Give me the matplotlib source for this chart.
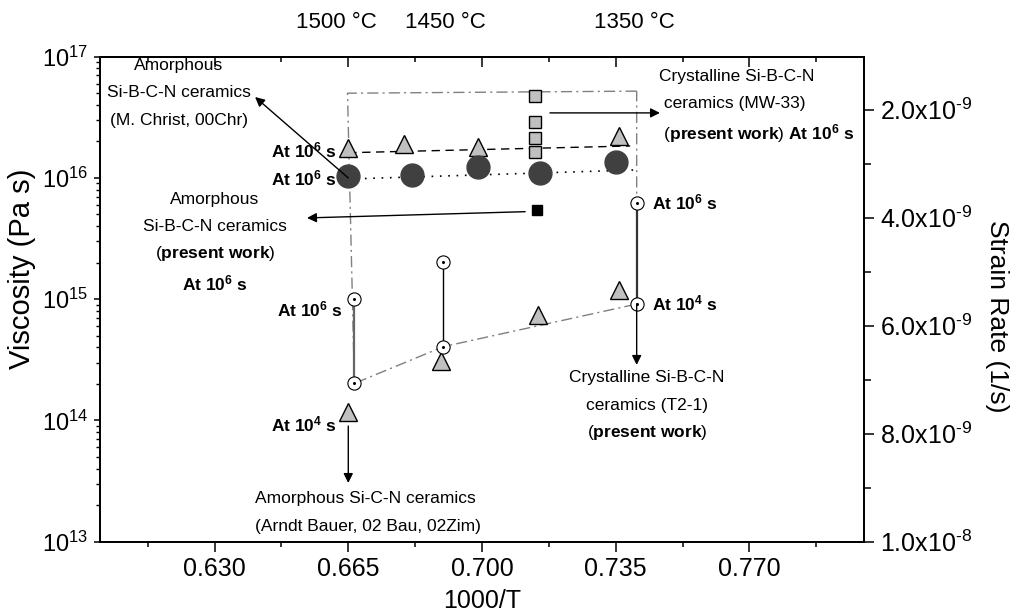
import numpy as np
import matplotlib
matplotlib.use("Agg")
import matplotlib.pyplot as plt
from matplotlib.ticker import FixedLocator, FuncFormatter, LogLocator, NullFormatter

plt.rcParams['font.family'] = ['Liberation Sans', 'DejaVu Sans']
plt.rcParams['mathtext.fontset'] = 'custom'
plt.rcParams['mathtext.rm'] = 'Liberation Sans'
plt.rcParams['mathtext.bf'] = 'Liberation Sans:bold'
plt.rcParams['mathtext.it'] = 'Liberation Sans:italic'

# amorphous Si-B-C-N (M. Christ), 10^6 s
christ_x = [0.665, 0.6796, 0.699, 0.7359]
christ_eta = [1.77e16, 1.90e16, 1.80e16, 2.23e16]
christ_fit_x = [0.665, 0.7388]
christ_fit_eta = [1.615e16, 1.835e16]

# amorphous Si-B-C-N (present work), 10^6 s
amor_x = [0.665, 0.6817, 0.699, 0.7152, 0.7351]
amor_eta = [1.03e16, 1.06e16, 1.22e16, 1.09e16, 1.36e16]
amor_fit_x = [0.665, 0.7405]
amor_fit_eta = [9.8e15, 1.165e16]

# crystalline MW-33, 10^6 s
mw33_x = [0.7139, 0.7139, 0.7139, 0.7139]
mw33_eta = [4.74e16, 2.91e16, 2.12e16, 1.64e16]
amor_pw_x = [0.7143]
amor_pw_eta = [5.45e15]

# crystalline T2-1 at 10^6 s and 10^4 s
t21_x = [0.6666, 0.6899, 0.7405]
t21_eta_1e6 = [1.0e15, 2.01e15, 6.18e15]
t21_eta_1e4 = [2.02e14, 4.06e14, 9.12e14]
t21_link_colors = ['#666666', 'black', '#333333']

# amorphous Si-C-N (Bauer)
bauer_x = [0.665, 0.6893, 0.7147, 0.7359]
bauer_eta = [1.18e14, 3.11e14, 7.4e14, 1.19e15]

# upper corners of the dash-dot envelope
env_top_x = [0.7405, 0.6648]
env_top_eta = [5.2e16, 5.0e16]

x_major = [0.630, 0.665, 0.700, 0.735, 0.770]
x_minor = [0.6125, 0.6475, 0.6825, 0.7175, 0.7525, 0.7875]
temp_labels = ['1500 °C', '1450 °C', '1350 °C']
temp_pos = [0.6618, 0.6903, 0.7398]

fig = plt.figure(figsize=(10.1, 6.15), dpi=100)
ax = fig.add_axes([0.099, 0.1192, 0.7564, 0.7886])
ax.set_xlim(0.6, 0.8)
ax.set_yscale('log')
ax.set_ylim(1e13, 1e17)

gray = '#c0c0c0'
ax.plot(env_top_x + t21_x + env_top_x[:1], env_top_eta + t21_eta_1e4 + env_top_eta[:1],
        color='#808080', lw=1, ls=(0, (8, 3, 1.5, 3)), zorder=1)
ax.plot(christ_fit_x, christ_fit_eta, color='k', lw=1, ls=(0, (6, 4)), zorder=1)
ax.plot(amor_fit_x, amor_fit_eta, color='k', lw=1.2, ls=(0, (1, 4)), zorder=1)
for xv, lo, hi, c in zip(t21_x, t21_eta_1e4, t21_eta_1e6, t21_link_colors):
    ax.plot([xv, xv], [lo, hi], color=c, lw=1.6 if c != 'black' else 1, zorder=1)

ax.plot(christ_x, christ_eta, '^', ms=13, mfc=gray, mec='k', mew=1, zorder=3)
ax.plot(bauer_x, bauer_eta, '^', ms=13, mfc=gray, mec='k', mew=1, zorder=3)
ax.plot(amor_x, amor_eta, 'o', ms=16.5, mfc='#404040', mec='#404040', zorder=3)
ax.plot(mw33_x, mw33_eta, 's', ms=8.6, mfc=gray, mec='k', mew=1, zorder=3)
ax.plot(amor_pw_x, amor_pw_eta, 's', ms=7.5, mfc='k', mec='k', zorder=3)
for eta in (t21_eta_1e6, t21_eta_1e4):
    ax.plot(t21_x, eta, 'o', ms=9.5, mfc='white', mec='k', mew=0.8, zorder=3)
    ax.plot(t21_x, eta, 'o', ms=1.2, mfc='k', mec='k', zorder=4)

arrow = dict(arrowstyle='-|>', color='k', lw=1, mutation_scale=14, shrinkA=0, shrinkB=0)
ax.annotate('', xy=(0.6406, 4.65e16), xytext=(0.665, 1.0e16), arrowprops=arrow)
ax.annotate('', xy=(0.6542, 4.68e15), xytext=(0.7113, 5.27e15), arrowprops=arrow)
ax.annotate('', xy=(0.665, 3.05e13), xytext=(0.665, 9.0e13), arrowprops=arrow)
ax.annotate('', xy=(0.7466, 3.44e16), xytext=(0.7178, 3.44e16), arrowprops=arrow)
ax.annotate('', xy=(0.7405, 2.87e14), xytext=(0.7405, 9.12e14), arrowprops=arrow)


def stack(x, y, lines, ha='center', gap=19.5, size=12.5):
    for i, s in enumerate(lines):
        ax.annotate(s, (x, y), xytext=(0, -i * gap), textcoords='offset points',
                    ha=ha, va='center', fontsize=size)


at6 = r'$\mathbf{At\ 10^{6}\ s}$'
at4 = r'$\mathbf{At\ 10^{4}\ s}$'
pw = r'($\mathbf{present\ work}$)'

stack(0.6206, 8.4e16, ['Amorphous', 'Si-B-C-N ceramics', '(M. Christ, 00Chr)'])
stack(0.6301, 6.7e15, ['Amorphous', 'Si-B-C-N ceramics', pw])
ax.annotate(at6, (0.6301, 6.7e15), xytext=(0, -60.5), textcoords='offset points',
            ha='center', va='center', fontsize=12.5)
stack(0.6406, 2.25e13, ['Amorphous Si-C-N ceramics', '(Arndt Bauer, 02 Bau, 02Zim)'], ha='left')
stack(0.7463, 6.9e16, ['Crystalline Si-B-C-N', ' ceramics (MW-33)'], ha='left')
ax.annotate(' ' + pw + ' ' + at6, (0.7463, 6.9e16), xytext=(0, -41.5), textcoords='offset points',
            ha='left', va='center', fontsize=12.5)
stack(0.7432, 2.24e14, ['Crystalline Si-B-C-N', 'ceramics (T2-1)', pw])

for txt, xv, yv, ha in [(at6, 0.662, 1.70e16, 'right'), (at6, 0.662, 1.0e16, 'right'),
                        (at6, 0.6636, 8.3e14, 'right'), (at4, 0.662, 9.3e13, 'right'),
                        (at6, 0.7445, 6.3e15, 'left'), (at4, 0.7445, 9.3e14, 'left')]:
    ax.text(xv, yv, txt, ha=ha, va='center', fontsize=12.5)

for lab, xv in zip(temp_labels, temp_pos):
    ax.text(xv, 1.0715, lab, transform=ax.get_xaxis_transform(), ha='center', va='center',
            fontsize=16)

# axes styling
for sp in ax.spines.values():
    sp.set_linewidth(1.3)
ax.xaxis.set_major_locator(FixedLocator(x_major))
ax.xaxis.set_minor_locator(FixedLocator(x_minor))
ax.xaxis.set_major_formatter(FuncFormatter(lambda v, p: '%.3f' % v))
ax.tick_params(axis='x', which='major', direction='out', length=7.2, width=1.1, labelsize=18, pad=4)
ax.tick_params(axis='x', which='minor', direction='out', length=3.6, width=1.1)
ax.yaxis.set_major_locator(LogLocator(base=10, numticks=10))
ax.yaxis.set_minor_locator(LogLocator(base=10, subs=np.arange(2, 10), numticks=10))
ax.yaxis.set_minor_formatter(NullFormatter())
ax.tick_params(axis='y', which='major', direction='out', length=4.5, width=1.1, labelsize=17, pad=4)
ax.tick_params(axis='y', which='minor', direction='out', length=3, width=1)

top = ax.secondary_xaxis('top')
top.set_xticks(x_major)
top.set_xticks(x_minor, minor=True)
top.tick_params(which='major', direction='in', length=7.2, width=1.1, labeltop=False)
top.tick_params(which='minor', direction='in', length=3.6, width=1.1)
top.spines['top'].set_linewidth(1.3)

ax2 = ax.twinx()
ax2.set_ylim(1.0e-8, 1.02e-9)


def sci(v, pos):
    e = int(np.floor(np.log10(v) + 1e-9))
    return r'$\mathdefault{%.1fx10^{\text{-}%d}}$' % (v / 10.0 ** e, -e)


ax2.yaxis.set_major_locator(FixedLocator([2e-9, 4e-9, 6e-9, 8e-9, 1e-8]))
ax2.yaxis.set_minor_locator(FixedLocator([3e-9, 5e-9, 7e-9, 9e-9]))
ax2.yaxis.set_major_formatter(FuncFormatter(sci))
ax2.tick_params(axis='y', which='major', direction='out', length=7.2, width=1.1, labelsize=18, pad=4)
ax2.tick_params(axis='y', which='minor', direction='out', length=5, width=1.1)
for sp in ax2.spines.values():
    sp.set_linewidth(1.3)

ax.set_xlabel('1000/T', fontsize=18, va='center')
ax.xaxis.set_label_coords(0.5, -0.122)
ax.set_ylabel('Viscosity (Pa s)', fontsize=21, va='center')
ax.yaxis.set_label_coords(-0.102, 0.562)
ax2.set_ylabel('Strain Rate (1/s)', fontsize=19, rotation=270, va='center')
ax2.yaxis.set_label_coords(1.174, 0.465)

fig.savefig('out.png', dpi=100)
